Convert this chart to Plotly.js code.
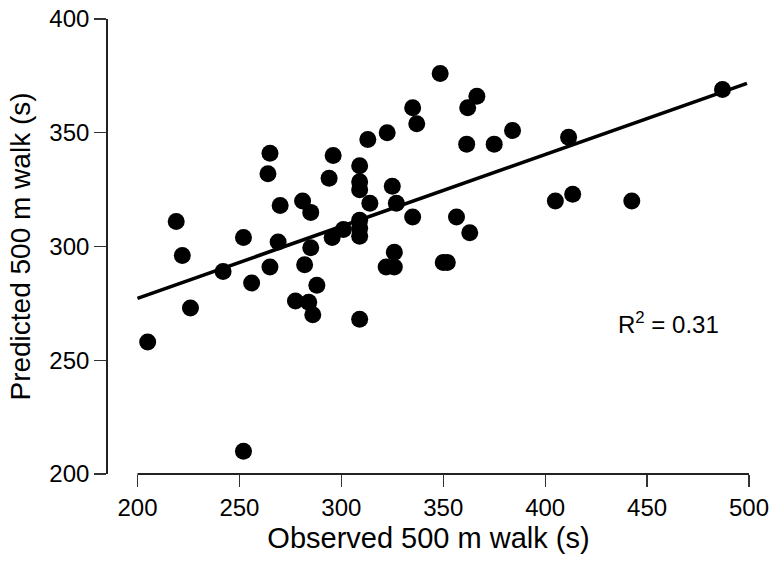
<!DOCTYPE html>
<html>
<head>
<meta charset="utf-8">
<script src="https://cdn.plot.ly/plotly-3.0.1.min.js"></script>
<style>html,body{margin:0;padding:0;background:#fff;}#chart{width:775px;height:561px;}</style>
</head>
<body>
<div id="chart"></div>
<script>
// Observed vs predicted 500 m walk times (s)
var observed = [205, 219, 222, 226, 242, 252, 252, 256, 264, 265, 265, 269, 270, 277.5, 281, 282, 284, 285, 285, 286, 288, 294, 296, 295.5, 301, 309, 309, 309, 309, 309, 309, 309, 313, 314, 322.5, 325, 327, 326, 322, 326, 335, 337, 335, 348.5, 350, 352, 356.5, 361.5, 362, 363, 366.5, 375, 384, 405, 411.5, 413.5, 442.5, 487];
var predicted = [258, 311, 296, 273, 289, 304, 210, 284, 332, 341, 291, 302, 318, 276, 320, 292, 275.5, 299.5, 315, 270, 283, 330, 340, 304, 307.5, 335.5, 328.5, 325, 311.5, 308, 304.5, 268, 347, 319, 350, 326.5, 319, 297.5, 291, 291, 361, 354, 313, 376, 293, 293, 313, 345, 361, 306, 366, 345, 351, 320, 348, 323, 320, 369];
var fitX = [200, 499];
var fitY = [277.2, 371.7];
var xTicks = [200, 250, 300, 350, 400, 450, 500];
var yTicks = [200, 250, 300, 350, 400];
var r2Label = 'R<sup>2</sup> = 0.31';

var FONT = 'Liberation Sans, Arial, Helvetica, sans-serif';

var traces = [
  {
    x: observed, y: predicted, type: 'scatter', mode: 'markers',
    marker: {size: 17, color: '#000', line: {width: 0}},
    cliponaxis: false, hoverinfo: 'x+y'
  },
  {
    x: fitX, y: fitY, type: 'scatter', mode: 'lines',
    line: {color: '#000', width: 3.6}, cliponaxis: false, hoverinfo: 'skip'
  }
];

var layout = {
  width: 775, height: 561,
  margin: {l: 107.5, r: 26, t: 19, b: 87},
  paper_bgcolor: '#fff', plot_bgcolor: '#fff',
  showlegend: false,
  font: {family: FONT, color: '#000', size: 24},
  xaxis: {
    range: [185.54, 500],
    tickmode: 'array', tickvals: xTicks, ticktext: xTicks.map(String),
    ticks: 'outside', ticklen: 12, tickwidth: 1.3, tickcolor: '#333',
    showline: false, showgrid: false, zeroline: false,
    tickfont: {family: FONT, size: 24, color: '#000'},
    title: {text: 'Observed 500 m walk (s)', font: {family: FONT, size: 29, color: '#000'}, standoff: 7},
    automargin: false, fixedrange: true
  },
  yaxis: {
    range: [200, 400],
    tickmode: 'array', tickvals: yTicks, ticktext: yTicks.map(String),
    ticks: 'outside', ticklen: 12, tickwidth: 1.3, tickcolor: '#333',
    showline: true, linecolor: '#222', linewidth: 1.8,
    showgrid: false, zeroline: false,
    tickfont: {family: FONT, size: 24, color: '#000'},
    title: {text: 'Predicted 500 m walk (s)', font: {family: FONT, size: 28, color: '#000'}, standoff: 10},
    automargin: false, fixedrange: true
  },
  shapes: [
    {type: 'line', xref: 'x', yref: 'paper', x0: xTicks[0], x1: xTicks[xTicks.length - 1], y0: 0, y1: 0,
     line: {color: '#222', width: 1.8}}
  ],
  annotations: [
    {xref: 'x', yref: 'y', x: 460.3, y: 266.5, text: r2Label, showarrow: false,
     xanchor: 'center', yanchor: 'middle', font: {family: FONT, size: 24, color: '#000'}}
  ]
};

Plotly.newPlot('chart', traces, layout, {displayModeBar: false, staticPlot: true});
</script>
</body>
</html>
